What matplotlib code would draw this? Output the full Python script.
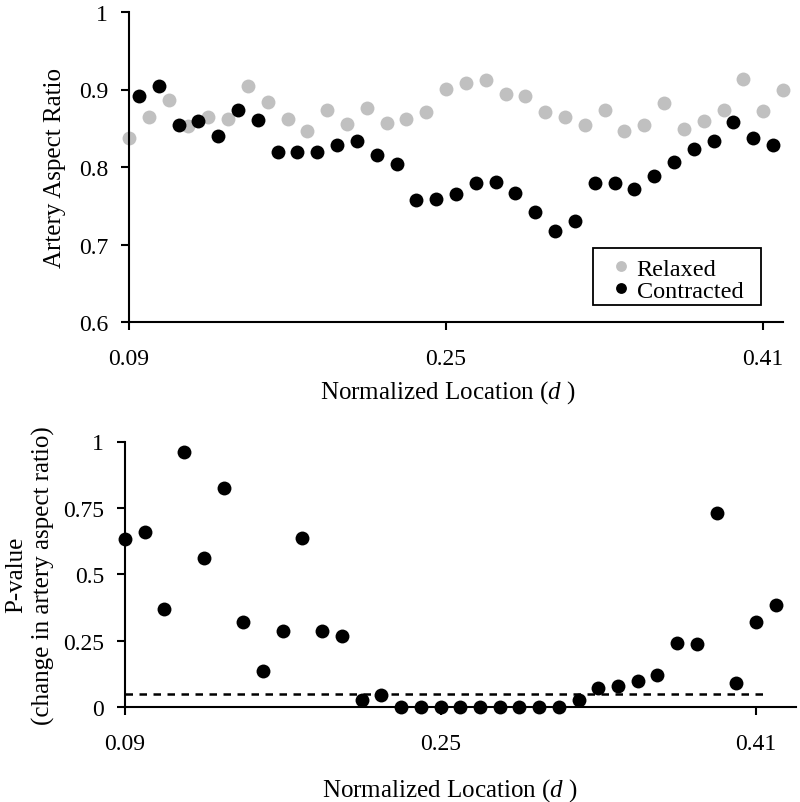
import numpy as np
import matplotlib.pyplot as plt
from matplotlib.patches import Rectangle

plt.rcParams['font.family'] = ['Liberation Serif', 'DejaVu Serif']
plt.rcParams['mathtext.fontset'] = 'custom'
plt.rcParams['mathtext.it'] = 'Liberation Serif:italic'

# locations (relaxed + p-values on the grid, contracted shifted half a step)
loc = np.round(np.arange(0.09, 0.4201, 0.01), 3)
loc_contracted = np.round(np.arange(0.095, 0.4151, 0.01), 3)

relaxed = [0.837, 0.864, 0.886, 0.853, 0.865, 0.862, 0.904, 0.884, 0.862, 0.847,
           0.873, 0.856, 0.876, 0.857, 0.862, 0.871, 0.901, 0.909, 0.912, 0.894,
           0.892, 0.871, 0.865, 0.854, 0.874, 0.846, 0.854, 0.882, 0.849, 0.860,
           0.874, 0.914, 0.872, 0.900]
contracted = [0.892, 0.904, 0.854, 0.860, 0.840, 0.873, 0.861, 0.820, 0.819, 0.819,
              0.828, 0.833, 0.816, 0.804, 0.757, 0.759, 0.765, 0.779, 0.781, 0.767,
              0.742, 0.717, 0.730, 0.780, 0.779, 0.771, 0.788, 0.806, 0.823, 0.834,
              0.858, 0.837, 0.828]
pvalue = [0.631, 0.660, 0.370, 0.959, 0.562, 0.826, 0.320, 0.136, 0.285, 0.637,
          0.285, 0.266, 0.025, 0.044, 0.0, 0.0, 0.0, 0.0, 0.0, 0.0,
          0.0, 0.0, 0.0, 0.025, 0.072, 0.080, 0.099, 0.122, 0.242, 0.236,
          0.730, 0.092, 0.320, 0.386]
alpha = 0.05

xticks = [0.09, 0.25, 0.41]
xticklabels = ['0.09', '0.25', '0.41']

fig = plt.figure(figsize=(8, 8.03), dpi=100)

def style_axes(ax):
    for s in ['top', 'right']:
        ax.spines[s].set_visible(False)
    for s in ['left', 'bottom']:
        ax.spines[s].set_linewidth(1.5)
    ax.tick_params(direction='out', length=6, width=1.5, labelsize=17)
    ax.tick_params(axis='x', pad=13)
    ax.tick_params(axis='y', pad=9)
    ax.set_xticks(xticks)
    ax.set_xticklabels(xticklabels)

# top panel
ax1 = fig.add_axes([129/800, 1 - 323/803, 654/800, 310/803])
ax1.plot(loc, relaxed, 'o', color='#c0c0c0', ms=10, mec='none', clip_on=False, label='Relaxed')
ax1.plot(loc_contracted, contracted, 'o', color='black', ms=10, mec='none', clip_on=False, label='Contracted')
ax1.set_xlim(0.09, 0.42)
ax1.set_ylim(0.6, 1.0)
ax1.set_yticks([0.6, 0.7, 0.8, 0.9, 1.0])
ax1.set_yticklabels(['0.6', '0.7', '0.8', '0.9', '1'])
style_axes(ax1)
ax1.set_ylabel('Artery Aspect Ratio', fontsize=18, labelpad=9)
ax1.set_xlabel('Normalized Location ($d$ )', fontsize=18, labelpad=6)
ax1.xaxis.label.set_x(0.488)
leg = ax1.legend(loc='upper left', bbox_to_anchor=(593/800, 1 - 249/803),
                 bbox_transform=fig.transFigure, borderaxespad=0, fontsize=17.5,
                 frameon=False, markerscale=0.78,
                 handlelength=1.5, handletextpad=-0.1, labelspacing=0.0,
                 borderpad=0.4)
# legend box is a bit tighter at the bottom than matplotlib's frame
ax1.add_patch(Rectangle((593/800, 1 - 306/803), 168/800, 57/803, transform=fig.transFigure,
                        facecolor='white', edgecolor='black', lw=1.3, zorder=4.9, clip_on=False))

# bottom panel
ax2 = fig.add_axes([125/800, 1 - 708/803, 671/800, 265.5/803])
ax2.plot(loc, pvalue, 'o', color='black', ms=10, mec='none', clip_on=False, zorder=3)
ax2.plot([0.09, 0.416], [alpha, alpha], color='black', lw=1.8, dashes=(3, 2.6))
ax2.set_xlim(0.09, 0.09 + 671/1972)
ax2.set_ylim(0, 1)
ax2.set_yticks([0, 0.25, 0.5, 0.75, 1.0])
ax2.set_yticklabels(['0', '0.25', '0.5', '0.75', '1'])
style_axes(ax2)
ax2.set_ylabel('P-value\n(change in artery aspect ratio)', fontsize=18, labelpad=6, linespacing=1.28)
ax2.set_xlabel('Normalized Location ($d$ )', fontsize=18, labelpad=16)
ax2.xaxis.label.set_x(0.484)

fig.savefig('out.png', dpi=100)
